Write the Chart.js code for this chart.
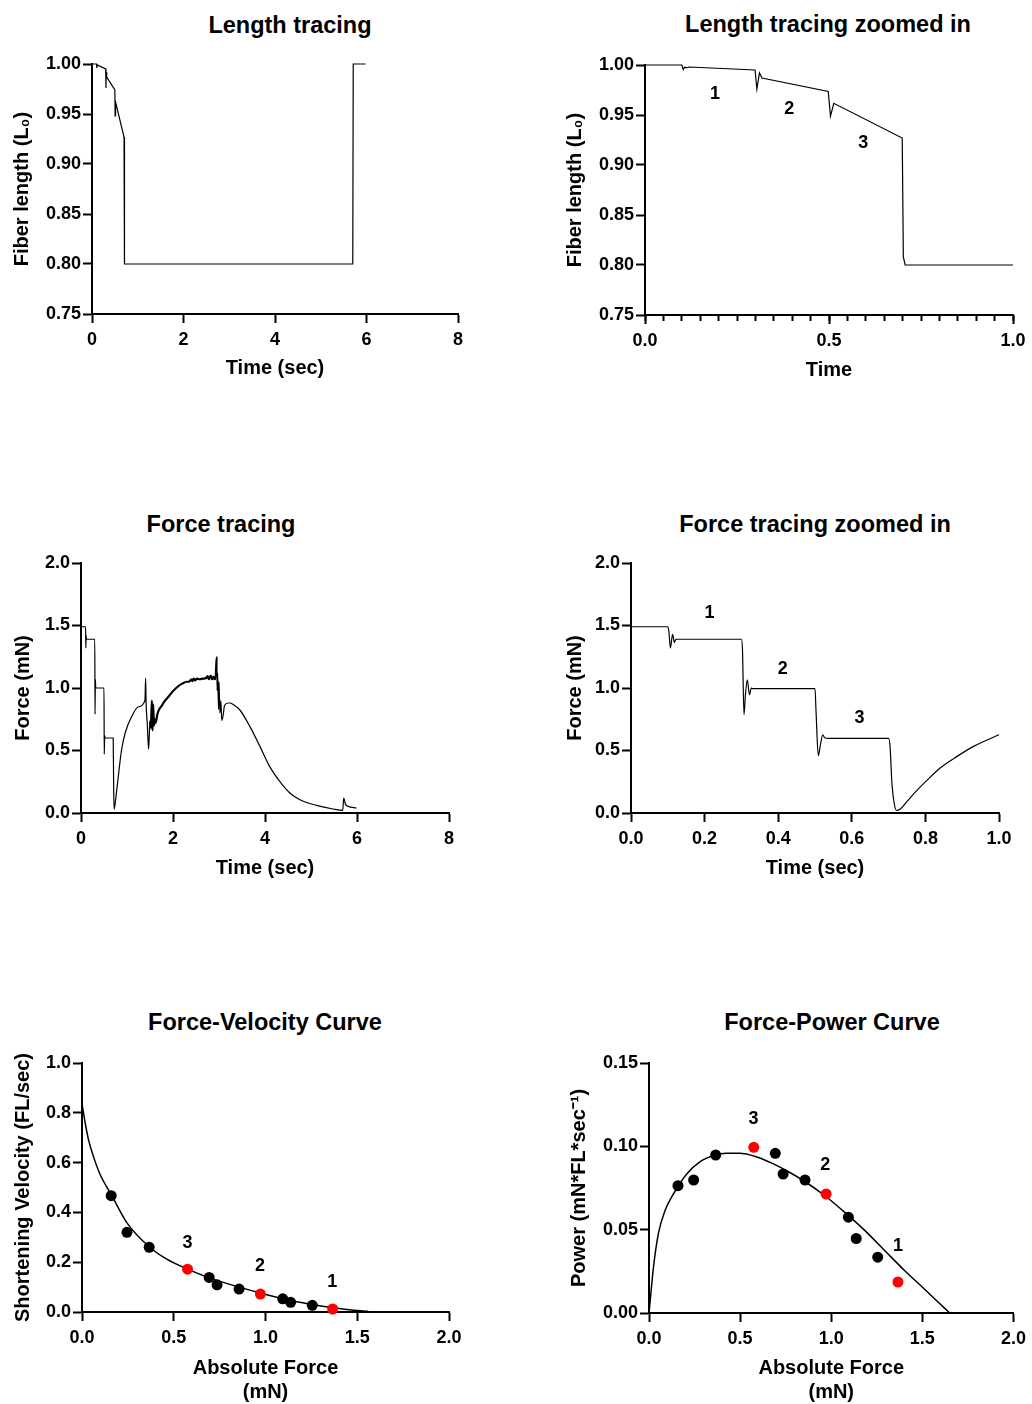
<!DOCTYPE html>
<html>
<head>
<meta charset="utf-8">
<title>Fiber length, force and power</title>
<script src="https://cdn.jsdelivr.net/npm/chart.js@4.4.1/dist/chart.umd.min.js"></script>
<style>
  body { margin: 0; background: #fff; }
  #figure { position: relative; width: 1032px; height: 1404px; font-family: "Liberation Sans", Arial, Helvetica, sans-serif; }
  #figure canvas { position: absolute; }
  .title { position: absolute; width: 400px; text-align: center; font-size: 23.5px; line-height: 28px; font-weight: bold; color: #000; }
</style>
</head>
<body>
<div id="figure">
  <div class="title" style="left:90px;top:11px">Length tracing</div>
  <div class="title" style="left:628px;top:10px">Length tracing zoomed in</div>
  <div class="title" style="left:21px;top:510px">Force tracing</div>
  <div class="title" style="left:615px;top:510px">Force tracing zoomed in</div>
  <div class="title" style="left:65px;top:1008px">Force-Velocity Curve</div>
  <div class="title" style="left:632px;top:1008px">Force-Power Curve</div>

  <canvas id="lengthFull" width="500" height="360" style="left:0;top:40px"></canvas>
  <canvas id="lengthZoom" width="492" height="360" style="left:540px;top:40px"></canvas>
  <canvas id="forceFull" width="500" height="360" style="left:0;top:540px"></canvas>
  <canvas id="forceZoom" width="492" height="360" style="left:540px;top:540px"></canvas>
  <canvas id="fv" width="500" height="364" style="left:0;top:1040px"></canvas>
  <canvas id="power" width="492" height="364" style="left:540px;top:1040px"></canvas>
</div>

<script>
// ---- data ----

// fiber length over the whole protocol (sec, L0)
const lengthTime = [0, 0.10, 0.105, 0.115, 0.30, 0.305, 0.31, 0.32, 0.50, 0.505, 0.515, 0.70, 0.71, 5.70, 5.71, 5.98];
const lengthValue = [1.000, 1.000, 0.996, 0.999, 0.995, 0.976, 0.992, 0.987, 0.974, 0.948, 0.962, 0.927, 0.800, 0.800, 1.000, 1.000];

// first second of the length trace
const lengthZoomTime = [0, 0.100, 0.104, 0.108, 0.112, 0.120, 0.299, 0.304, 0.311, 0.318, 0.498, 0.504, 0.513, 0.699, 0.702, 0.707, 1.000];
const lengthZoomValue = [1.000, 1.000, 0.9955, 0.998, 0.9972, 0.998, 0.995, 0.976, 0.992, 0.987, 0.9735, 0.9487, 0.9617, 0.927, 0.808, 0.800, 0.800];

// force over the whole protocol (sec, mN)
const forceTime = [
  0, 0.10, 0.105, 0.112, 0.12, 0.30, 0.305, 0.312, 0.32, 0.50, 0.505, 0.515, 0.525, 0.70, 0.71, 0.72,
  0.75, 0.81, 0.88, 0.96, 1.10, 1.25, 1.39, 1.405, 1.415, 1.44, 1.47, 1.50, 1.52, 1.54, 1.555, 1.57,
  1.585, 1.60, 1.62, 1.66, 1.70, 1.75, 1.80, 1.90, 2.00, 2.10, 2.20, 2.30, 2.35, 2.40, 2.42, 2.45,
  2.48, 2.52, 2.58, 2.65, 2.72, 2.75, 2.78, 2.82, 2.85, 2.88, 2.91, 2.93, 2.95, 2.96, 2.97, 2.99,
  3.00, 3.02, 3.04, 3.06, 3.09, 3.12, 3.20, 3.24, 3.30, 3.45, 3.67, 3.89, 4.10, 4.32, 4.54, 4.76,
  5.12, 5.48, 5.69, 5.71, 5.75, 5.81, 5.99
];
const forceValue = [
  1.49, 1.49, 1.32, 1.42, 1.39, 1.39, 0.79, 1.07, 1.00, 1.00, 0.47, 0.62, 0.60, 0.60, 0.20, 0.03,
  0.10, 0.29, 0.50, 0.64, 0.77, 0.85, 0.90, 1.08, 0.88, 0.72, 0.51, 0.74, 0.68, 0.90, 0.66, 0.87,
  0.70, 0.75, 0.72, 0.79, 0.83, 0.855, 0.885, 0.93, 0.975, 1.01, 1.035, 1.05, 1.05, 1.07, 1.055, 1.075,
  1.06, 1.075, 1.07, 1.075, 1.08, 1.095, 1.07, 1.10, 1.07, 1.09, 1.07, 1.10, 1.25, 0.98, 1.12, 0.83,
  1.05, 0.80, 0.90, 0.74, 0.78, 0.86, 0.88, 0.88, 0.87, 0.826, 0.693, 0.533, 0.373, 0.253, 0.16, 0.106,
  0.061, 0.032, 0.021, 0.12, 0.07, 0.053, 0.04
];

// first second of the force trace
const forceZoomTime = [
  0, 0.100, 0.103, 0.107, 0.113, 0.118, 0.122, 0.125, 0.300, 0.303, 0.307, 0.311, 0.316, 0.322, 0.327,
  0.330, 0.500, 0.503, 0.509, 0.515, 0.521, 0.527, 0.535, 0.700, 0.704, 0.709, 0.715, 0.722, 0.731,
  0.750, 0.777, 0.804, 0.840, 0.886, 0.931, 1.000
];
const forceZoomValue = [
  1.49, 1.49, 1.45, 1.32, 1.43, 1.365, 1.39, 1.39, 1.39, 1.30, 0.786, 0.95, 1.066, 0.946, 1.00,
  0.995, 0.995, 0.80, 0.458, 0.55, 0.626, 0.60, 0.597, 0.597, 0.53, 0.24, 0.08, 0.02, 0.03,
  0.093, 0.181, 0.261, 0.36, 0.453, 0.533, 0.626
];

// step releases: black = other steps, red = steps 1-3
const blackForce = [0.159, 0.245, 0.366, 0.693, 0.736, 0.856, 1.094, 1.137, 1.255];
const blackVelocity = [0.467, 0.320, 0.260, 0.139, 0.109, 0.092, 0.053, 0.039, 0.027];
const blackPower = [0.0764, 0.0798, 0.0948, 0.0958, 0.0834, 0.0798, 0.0575, 0.0447, 0.0335];
const redForce = [1.366, 0.972, 0.575];
const redVelocity = [0.012, 0.072, 0.172];
const redPower = [0.0186, 0.0714, 0.0994];
const stepNames = ['1', '2', '3'];

// fitted curves
const fvFitForce = [0, 0.018, 0.036, 0.063, 0.100, 0.159, 0.245, 0.366, 0.462, 0.575, 0.698, 0.856, 0.972, 1.097, 1.255, 1.369, 1.478, 1.559];
const fvFitVelocity = [0.837, 0.757, 0.690, 0.623, 0.550, 0.472, 0.358, 0.262, 0.212, 0.172, 0.136, 0.100, 0.076, 0.052, 0.030, 0.017, 0.007, 0.003];
const powerFitForce = [0, 0.007, 0.025, 0.052, 0.089, 0.134, 0.207, 0.279, 0.364, 0.424, 0.496, 0.587, 0.677, 0.768, 0.859, 0.967, 1.076, 1.185, 1.293, 1.402, 1.511, 1.583, 1.650];
const powerFitValue = [0, 0.008, 0.0279, 0.0479, 0.0618, 0.0714, 0.0834, 0.0907, 0.0948, 0.0958, 0.0958, 0.0938, 0.0898, 0.0846, 0.0786, 0.0702, 0.0602, 0.0494, 0.0375, 0.0255, 0.0144, 0.0069, 0];

// where the step numbers sit, in data units
const lengthZoomLabelX = [0.190, 0.392, 0.593];
const lengthZoomLabelY = [0.9708, 0.9557, 0.9215];
const forceZoomLabelX = [0.213, 0.4125, 0.621];
const forceZoomLabelY = [1.602, 1.152, 0.760];
const fvLabelX = [1.3635, 0.970, 0.575];
const fvLabelY = [0.1186, 0.1827, 0.2764];
const powerLabelX = [1.366, 0.967, 0.574];
const powerLabelY = [0.0399, 0.0888, 0.1163];

// ---- layout of the six panels (page pixels) ----
const panels = {
  lengthFull: {left: 0, top: 40, width: 500, height: 360, plot: [92, 64, 458, 314], yTitleX: 22, xTitleY: 368},
  lengthZoom: {left: 540, top: 40, width: 492, height: 360, plot: [645, 65, 1013, 315], yTitleX: 575, xTitleY: 370},
  forceFull: {left: 0, top: 540, width: 500, height: 360, plot: [81, 563, 449, 813], yTitleX: 23, xTitleY: 868},
  forceZoom: {left: 540, top: 540, width: 492, height: 360, plot: [631, 563, 999, 813], yTitleX: 575, xTitleY: 868},
  fv: {left: 0, top: 1040, width: 500, height: 364, plot: [82, 1063, 449, 1312], yTitleX: 23, xTitleY: 1392},
  power: {left: 540, top: 1040, width: 492, height: 364, plot: [649, 1063, 1017, 1313], yTitleX: 579, xTitleY: 1392}
};

const family = '"Liberation Sans", Arial, Helvetica, sans-serif';
Chart.defaults.font.family = family;
Chart.defaults.color = '#000';

function pairs(xs, ys) {
  return xs.map((x, i) => ({x: x, y: ys[i]}));
}

// straight segments by default; smooth recordings/fits pass cubicInterpolationMode
function trace(xs, ys, extra) {
  return Object.assign({
    data: pairs(xs, ys), showLine: true, borderColor: '#000', borderWidth: 1.2,
    tension: 0, pointRadius: 0, clip: false
  }, extra);
}

function dots(xs, ys, color) {
  return {
    data: pairs(xs, ys), showLine: false, pointRadius: 5.5, pointBorderWidth: 0,
    pointBackgroundColor: color, pointBorderColor: color, clip: false
  };
}

function axis(min, max, step, digits, title) {
  return {
    type: 'linear', min: min, max: max,
    border: {color: '#000', width: 2},
    grid: {drawOnChartArea: false, drawTicks: true, tickLength: 9, tickWidth: 2, tickColor: '#000'},
    ticks: {
      stepSize: step, autoSkip: false, maxRotation: 0, color: '#000',
      font: {size: 18, weight: 'bold'},
      callback: v => v.toFixed(digits)
    },
    title: {display: true, text: title, color: '#000', font: {size: 20, weight: 'bold'}}
  };
}

// short unlabeled ticks every 0.05 under the zoomed length trace
const minorTimeAxis = {
  type: 'linear', min: 0, max: 1, position: 'bottom', weight: -1,
  border: {display: false},
  grid: {drawOnChartArea: false, drawTicks: true, tickLength: 6, tickWidth: 2, tickColor: '#000'},
  ticks: {stepSize: 0.05, display: false, autoSkip: false},
  afterFit: s => { s.height = 0; }
};

// step numbers drawn at data positions
function stepLabels(xs, ys) {
  return {
    id: 'stepLabels',
    afterDatasetsDraw(chart) {
      const ctx = chart.ctx;
      const sx = chart.scales.x, sy = chart.scales.y;
      ctx.save();
      ctx.font = 'bold 18px ' + family;
      ctx.fillStyle = '#000';
      ctx.textAlign = 'center';
      ctx.textBaseline = 'middle';
      stepNames.forEach((t, i) => {
        ctx.fillText(t, sx.getPixelForValue(xs[i]), sy.getPixelForValue(ys[i]));
      });
      ctx.restore();
    }
  };
}

function makeChart(id, datasets, xAxis, yAxis, extraScales, extraPlugins) {
  const p = panels[id];
  const [L, T, R, B] = p.plot;
  xAxis.afterFit = s => { s.height = p.top + p.height - B; };
  xAxis.ticks.padding = 6;
  xAxis.title.padding = {top: 0, bottom: p.top + p.height - p.xTitleY - 12};
  yAxis.afterFit = s => { s.width = L - p.left; };
  yAxis.ticks.padding = 2;
  yAxis.title.padding = {top: p.yTitleX - p.left - 12, bottom: 0};

  return new Chart(document.getElementById(id), {
    type: 'scatter',
    data: {datasets: datasets},
    options: {
      responsive: false,
      animation: false,
      events: [],
      layout: {padding: {left: 0, top: T - p.top, right: p.left + p.width - R, bottom: 0}},
      scales: Object.assign({x: xAxis, y: yAxis}, extraScales || {}),
      plugins: {legend: {display: false}, tooltip: {enabled: false}}
    },
    plugins: extraPlugins || []
  });
}

makeChart('lengthFull',
  [trace(lengthTime, lengthValue)],
  axis(0, 8, 2, 0, 'Time (sec)'),
  axis(0.75, 1.0, 0.05, 2, 'Fiber length (L\u2080)'));

makeChart('lengthZoom',
  [trace(lengthZoomTime, lengthZoomValue)],
  axis(0, 1, 0.5, 1, 'Time'),
  axis(0.75, 1.0, 0.05, 2, 'Fiber length (L\u2080)'),
  {xm: minorTimeAxis},
  [stepLabels(lengthZoomLabelX, lengthZoomLabelY)]);

// the noisy stretch of the recovery looks heavier
makeChart('forceFull',
  [trace(forceTime, forceValue, {
    cubicInterpolationMode: 'monotone',
    segment: {borderWidth: c => (c.p0.parsed.x >= 1.5 && c.p1.parsed.x <= 2.95 ? 2.2 : 1.2)}
  })],
  axis(0, 8, 2, 0, 'Time (sec)'),
  axis(0, 2, 0.5, 1, 'Force (mN)'));

makeChart('forceZoom',
  [trace(forceZoomTime, forceZoomValue, {cubicInterpolationMode: 'monotone'})],
  axis(0, 1, 0.2, 1, 'Time (sec)'),
  axis(0, 2, 0.5, 1, 'Force (mN)'),
  null,
  [stepLabels(forceZoomLabelX, forceZoomLabelY)]);

makeChart('fv',
  [
    dots(redForce, redVelocity, '#ff0000'),
    dots(blackForce, blackVelocity, '#000'),
    trace(fvFitForce, fvFitVelocity, {borderWidth: 1.5, cubicInterpolationMode: 'monotone'})
  ],
  axis(0, 2, 0.5, 1, ['Absolute Force', '(mN)']),
  axis(0, 1, 0.2, 1, 'Shortening Velocity (FL/sec)'),
  null,
  [stepLabels(fvLabelX, fvLabelY)]);

makeChart('power',
  [
    dots(redForce, redPower, '#ff0000'),
    dots(blackForce, blackPower, '#000'),
    trace(powerFitForce, powerFitValue, {borderWidth: 1.5, cubicInterpolationMode: 'monotone'})
  ],
  axis(0, 2, 0.5, 1, ['Absolute Force', '(mN)']),
  axis(0, 0.15, 0.05, 2, 'Power (mN*FL*sec\u207B\u00B9)'),
  null,
  [stepLabels(powerLabelX, powerLabelY)]);
</script>
</body>
</html>
